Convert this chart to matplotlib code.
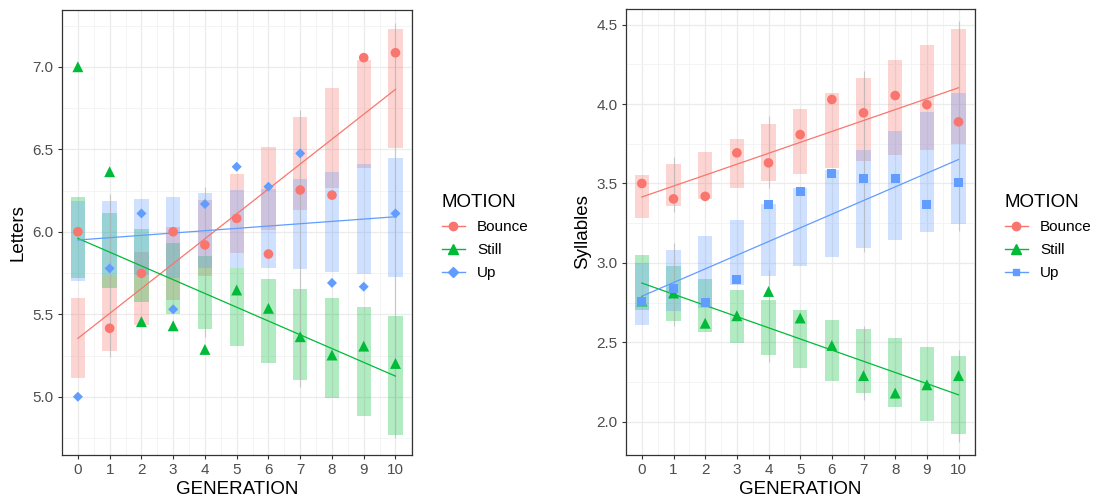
import numpy as np
import matplotlib.pyplot as plt
from matplotlib.lines import Line2D

plt.rcParams.update({
    'font.family': ['Liberation Sans', 'DejaVu Sans'],
    'axes.edgecolor': '#333333',
    'axes.linewidth': 0.9,
    'xtick.color': '#333333',
    'ytick.color': '#333333',
    'xtick.labelcolor': '#4d4d4d',
    'ytick.labelcolor': '#4d4d4d',
})

RED = '#F8766D'
GREEN = '#00BA38'
BLUE = '#619CFF'

gen = np.arange(11)

# ── Letters panel ───────────────────────────────────────────────
let_bounce = [6.00, 5.415, 5.748, 6.00, 5.92, 6.081, 5.865, 6.253, 6.222, 7.055, 7.085]
let_still = [7.00, 6.364, 5.455, 5.43, 5.287, 5.647, 5.536, 5.364, 5.253, 5.307, 5.202]
let_up = [5.00, 5.778, 6.111, 5.53, 6.168, 6.394, 6.273, 6.475, 5.69, 5.667, 6.111]

let_bounce_lo = [5.115, 5.279, 5.434, 5.586, 5.733, 5.873, 6.01, 6.131, 6.263, 6.384, 6.505]
let_bounce_hi = [5.60, 5.738, 5.879, 6.03, 6.192, 6.348, 6.515, 6.693, 6.869, 7.04, 7.226]
let_still_lo = [5.721, 5.657, 5.576, 5.50, 5.408, 5.309, 5.206, 5.101, 4.994, 4.883, 4.768]
let_still_hi = [6.208, 6.111, 6.016, 5.933, 5.853, 5.782, 5.713, 5.651, 5.60, 5.545, 5.489]
let_up_lo = [5.703, 5.738, 5.738, 5.717, 5.778, 5.782, 5.778, 5.772, 5.758, 5.744, 5.727]
let_up_hi = [6.188, 6.188, 6.196, 6.208, 6.233, 6.253, 6.26, 6.319, 6.364, 6.408, 6.448]

# fitted trend lines: value at generation 0 and generation 10
let_fit_bounce = [5.354, 6.863]
let_fit_still = [5.96, 5.125]
let_fit_up = [5.95, 6.091]

let_wh_x = [1, 4, 7, 10]
let_wh_lo = [5.243, 5.364, 5.06, 4.75]
let_wh_hi = [6.229, 6.273, 6.738, 7.263]

# ── Syllables panel ─────────────────────────────────────────────
syl_bounce = [3.50, 3.403, 3.419, 3.693, 3.63, 3.808, 4.029, 3.945, 4.054, 3.997, 3.888]
syl_still = [2.76, 2.81, 2.62, 2.667, 2.82, 2.653, 2.48, 2.29, 2.18, 2.232, 2.29]
syl_up = [2.757, 2.837, 2.751, 2.894, 3.367, 3.451, 3.562, 3.531, 3.531, 3.367, 3.508]

syl_bounce_lo = [3.283, 3.356, 3.40, 3.472, 3.514, 3.561, 3.598, 3.64, 3.682, 3.714, 3.75]
syl_bounce_hi = [3.552, 3.624, 3.697, 3.781, 3.873, 3.97, 4.071, 4.166, 4.275, 4.371, 4.475]
syl_still_lo = [2.705, 2.637, 2.567, 2.494, 2.417, 2.341, 2.257, 2.18, 2.092, 2.007, 1.921]
syl_still_hi = [3.048, 2.978, 2.90, 2.832, 2.768, 2.705, 2.642, 2.585, 2.527, 2.47, 2.415]
syl_up_lo = [2.607, 2.694, 2.716, 2.863, 2.915, 2.978, 3.037, 3.094, 3.146, 3.195, 3.247]
syl_up_hi = [3.00, 3.079, 3.167, 3.268, 3.373, 3.472, 3.588, 3.71, 3.829, 3.949, 4.071]

syl_fit_bounce = [3.415, 4.103]
syl_fit_still = [2.873, 2.169]
syl_fit_up = [2.79, 3.651]

syl_wh_x = [1, 1, 4, 4, 7, 7, 10, 10]
syl_wh_lo = [3.318, 2.60, 3.474, 2.375, 3.07, 2.137, 3.199, 1.875]
syl_wh_hi = [3.67, 3.125, 3.924, 2.957, 4.207, 2.60, 4.523, 2.45]


def draw_panel(ax, means, los, his, fits, wh, markers, sizes, ylabel, ylim, yticks):
    colors = [RED, GREEN, BLUE]
    # minor / major grid like ggplot theme_bw
    ax.set_xticks(np.arange(-0.5, 10.6, 1.0), minor=True)
    yt_minor = np.arange(yticks[0] - 0.25, yticks[-1] + 0.3, 0.5)
    ax.set_yticks(yt_minor, minor=True)
    ax.grid(which='major', color='#ebebeb', lw=0.9, zorder=0)
    ax.grid(which='minor', color='#f3f3f3', lw=0.6, zorder=0)
    ax.tick_params(which='minor', length=0)
    ax.set_axisbelow(True)

    for c, lo, hi in zip(colors, los, his):
        lo = np.array(lo)
        hi = np.array(hi)
        ax.bar(gen, hi - lo, bottom=lo, width=0.45, color=c, alpha=0.3,
               linewidth=0, zorder=2)

    wx, wlo, whi = wh
    ax.vlines(wx, wlo, whi, color='#b0b0b0', lw=0.8, alpha=0.6, zorder=2.5)

    for c, f in zip(colors, fits):
        ax.plot([0, 10], f, color=c, lw=0.9, zorder=3)

    for c, m, mk, s in zip(colors, means, markers, sizes):
        ax.scatter(gen, m, marker=mk, s=s, color=c, edgecolors='none', zorder=4)

    ax.set_xlim(-0.5, 10.52)
    ax.set_ylim(*ylim)
    ax.set_xticks(gen)
    ax.set_yticks(yticks)
    ax.set_yticklabels([f'{v:.1f}' for v in yticks])
    ax.tick_params(which='major', length=3, width=0.8, labelsize=11, pad=3)
    ax.set_xlabel('GENERATION', fontsize=13.5, labelpad=3)
    ax.set_ylabel(ylabel, fontsize=13.5, labelpad=4)


fig = plt.figure(figsize=(10.98, 5.03), dpi=100)
W, H = 1098, 503
ax1 = fig.add_axes([62 / W, 1 - 455 / H, 350 / W, 445 / H])
ax2 = fig.add_axes([626 / W, 1 - 455 / H, 349 / W, 446 / H])

draw_panel(ax1,
           [let_bounce, let_still, let_up],
           [let_bounce_lo, let_still_lo, let_up_lo],
           [let_bounce_hi, let_still_hi, let_up_hi],
           [let_fit_bounce, let_fit_still, let_fit_up],
           (let_wh_x, let_wh_lo, let_wh_hi),
           ['o', '^', 'D'], [48, 62, 26],
           'Letters', (4.647, 7.344), [5.0, 5.5, 6.0, 6.5, 7.0])

draw_panel(ax2,
           [syl_bounce, syl_still, syl_up],
           [syl_bounce_lo, syl_still_lo, syl_up_lo],
           [syl_bounce_hi, syl_still_hi, syl_up_hi],
           [syl_fit_bounce, syl_fit_still, syl_fit_up],
           (syl_wh_x, syl_wh_lo, syl_wh_hi),
           ['o', '^', 's'], [48, 62, 44],
           'Syllables', (1.79, 4.599), [2.0, 2.5, 3.0, 3.5, 4.0, 4.5])


def legend_handles(up_marker):
    return [Line2D([0], [0], color=RED, lw=1, marker='o', markersize=6, label='Bounce'),
            Line2D([0], [0], color=GREEN, lw=1, marker='^', markersize=7, label='Still'),
            Line2D([0], [0], color=BLUE, lw=1, marker=up_marker, markersize=5, label='Up')]


for handles, x0 in [(legend_handles('D'), 428), (legend_handles('s'), 991)]:
    leg = fig.legend(handles=handles, title='MOTION', loc='upper left',
                     bbox_to_anchor=(x0 / W, 1 - 180 / H), frameon=False,
                     fontsize=11, title_fontsize=13.5, handlelength=1.5,
                     handletextpad=0.8, labelspacing=0.6)
    leg._legend_box.align = 'left'

fig.savefig('out.png', dpi=100)
